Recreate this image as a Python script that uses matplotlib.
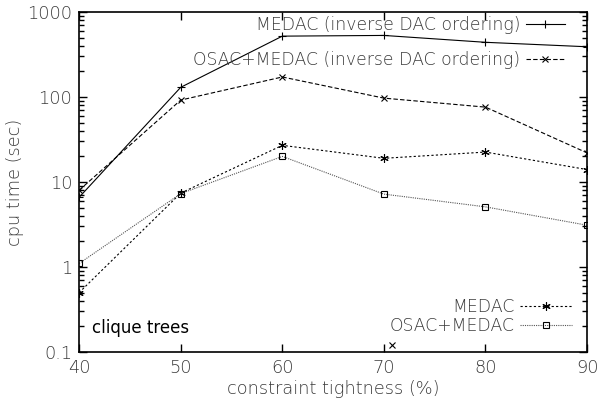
import matplotlib
matplotlib.use("Agg")
import matplotlib.pyplot as plt
from matplotlib.ticker import LogLocator, NullFormatter, FixedLocator

tightness = [40, 50, 60, 70, 80, 90]
medac_inv = [6.6, 130, 520, 530, 440, 390]
osac_medac_inv = [8.0, 92, 172, 97, 76, 22]
medac = [0.5, 7.4, 27, 19, 22.5, 14]
osac_medac = [1.1, 7.3, 20, 7.2, 5.1, 3.1]
stray_x = [70.8]
stray_y = [0.12]

labels = ["MEDAC (inverse DAC ordering)", "OSAC+MEDAC (inverse DAC ordering)",
          "MEDAC", "OSAC+MEDAC"]
xticks = [40, 50, 60, 70, 80, 90]
yticks = [0.1, 1, 10, 100, 1000]
yticklabels = ["0.1", "1", "10", "100", "1000"]

fs = 12.4
plt.rcParams['font.family'] = ['DejaVu Sans']
fig = plt.figure(figsize=(6.04, 4.0), dpi=100)
ax = fig.add_axes([0.131, 0.12, 0.841, 0.85])

lw = 0.8
h1, = ax.plot(tightness, medac_inv, color='black', lw=lw, ls='-', marker='+', ms=6, mew=0.8)
h2, = ax.plot(tightness, osac_medac_inv, color='black', lw=lw, ls=(0, (4, 2)), marker='x', ms=5, mew=0.8)
h3, = ax.plot(tightness, medac, color='black', lw=lw, ls=(0, (2, 2)), marker=(6, 2, 0), ms=6, mew=0.8)
h4, = ax.plot(tightness, osac_medac, color='#555555', lw=lw, ls=(0, (1, 1)), marker='s', ms=5,
              mfc='none', mec='black', mew=0.8)
ax.plot(stray_x, stray_y, ls='none', marker='x', ms=5, mew=0.8, color='black')

ax.set_yscale('log')
ax.set_xlim(40, 90)
ax.set_ylim(0.1, 1000)
ax.xaxis.set_major_locator(FixedLocator(xticks))
ax.set_xticklabels([str(t) for t in xticks])
ax.yaxis.set_major_locator(FixedLocator(yticks))
ax.set_yticklabels(yticklabels)
ax.yaxis.set_minor_locator(LogLocator(base=10, subs=range(2, 10)))
ax.yaxis.set_minor_formatter(NullFormatter())

ax.tick_params(which='both', direction='in', top=True, right=True, width=1.0, color='black',
               labelsize=12.8, labelcolor='#3a3a3a')
ax.tick_params(which='major', length=6, pad=5)
ax.tick_params(which='minor', length=3.5)
for lab in ax.get_xticklabels() + ax.get_yticklabels():
    lab.set_fontweight('light')
for s in ax.spines.values():
    s.set_linewidth(1.2)

ax.set_xlabel("constraint tightness (%)", fontsize=12.8, color='#3a3a3a', fontweight='light', labelpad=2)
ax.set_ylabel("cpu time (sec)", fontsize=12.8, color='#3a3a3a', fontweight='light', labelpad=2)

ax.text(0.026, 0.07, "clique trees", transform=ax.transAxes, fontsize=12, color='black',
        ha='left', va='center')

common = dict(frameon=False, markerfirst=False, numpoints=1, borderpad=0, borderaxespad=0,
              handletextpad=0.3, prop={'size': fs, 'weight': 'light'})
l1 = ax.legend([h1], [labels[0]], loc='center right', bbox_to_anchor=(0.957, 0.962),
               handlelength=2.3, **common)
ax.add_artist(l1)
l2 = ax.legend([h2], [labels[1]], loc='center right', bbox_to_anchor=(0.957, 0.859),
               handlelength=2.3, **common)
ax.add_artist(l2)
l3 = ax.legend([h3, h4], [labels[2], labels[3]], loc='center right',
               bbox_to_anchor=(0.970, 0.104), handlelength=3.0, labelspacing=0.08, **common)
for l in (l1, l2, l3):
    for t in l.get_texts():
        t.set_color('#3a3a3a')

fig.savefig("out.png", dpi=100)
